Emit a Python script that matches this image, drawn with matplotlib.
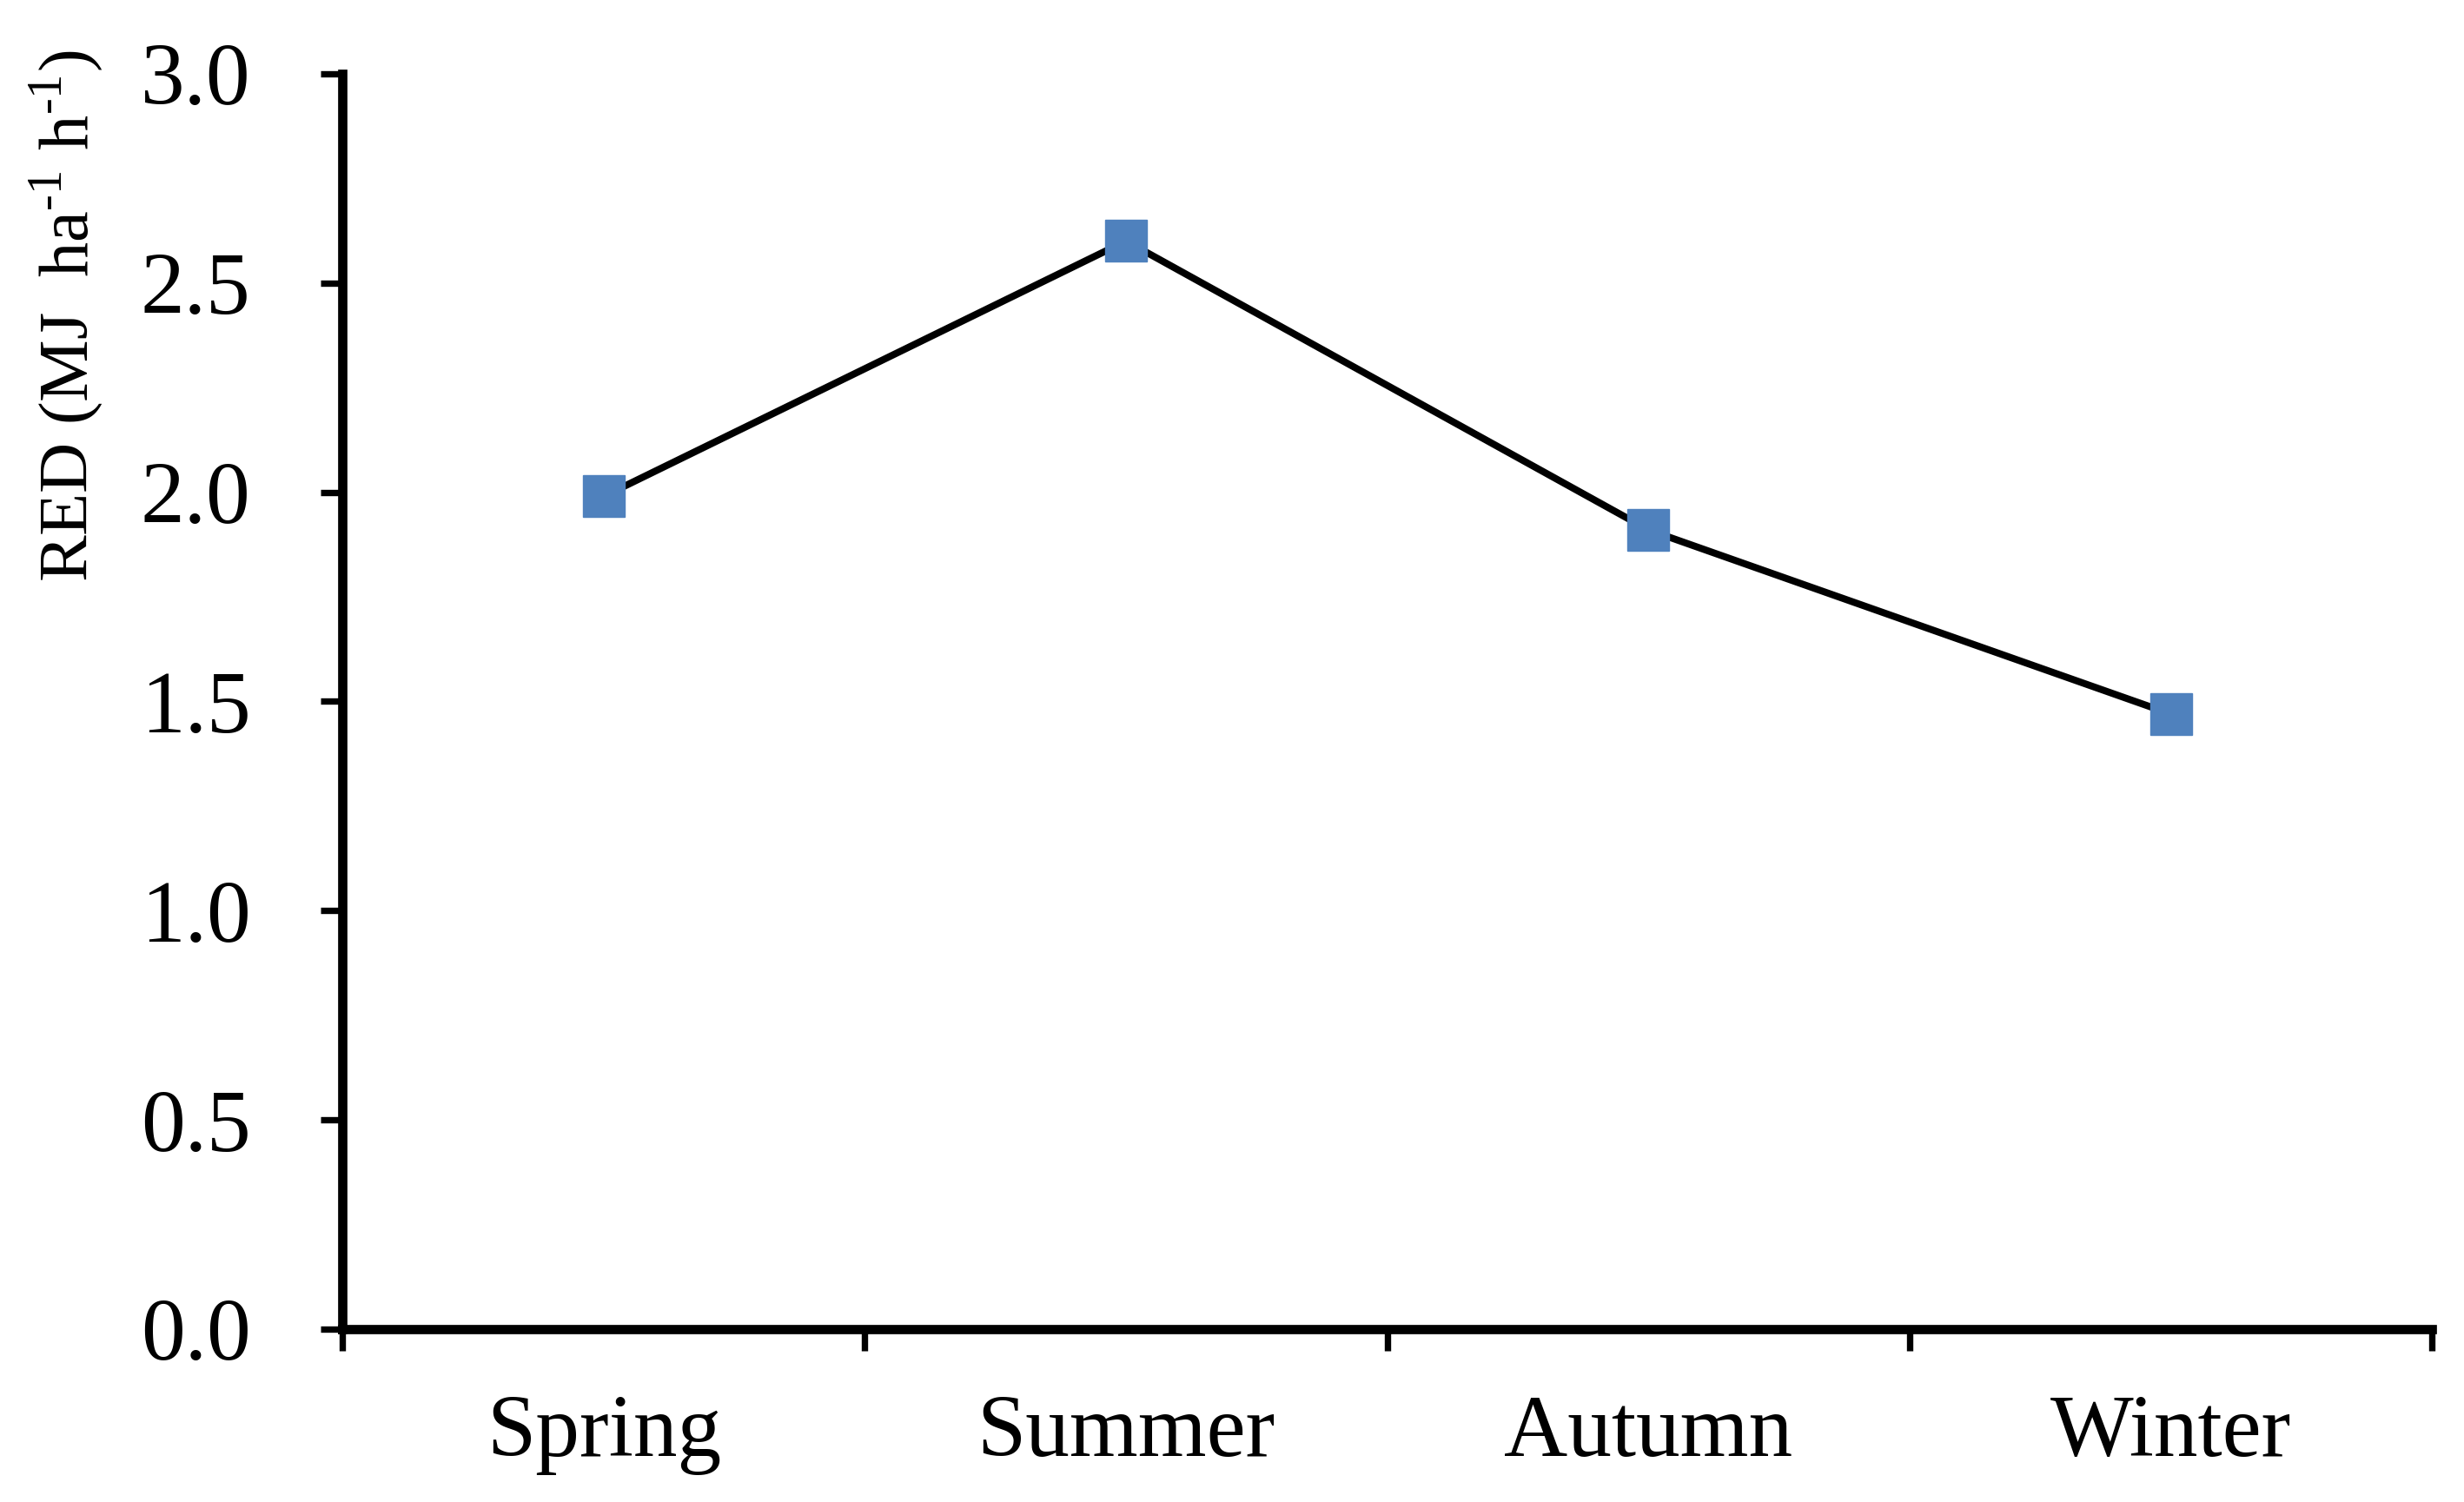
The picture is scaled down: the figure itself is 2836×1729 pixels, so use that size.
import matplotlib.pyplot as plt
import numpy as np

seasons = ['Spring', 'Summer', 'Autumn', 'Winter']
red_values = [1.99, 2.60, 1.91, 1.47]
y_ticks = [0.0, 0.5, 1.0, 1.5, 2.0, 2.5, 3.0]

plt.rcParams['font.family'] = ['Liberation Serif', 'DejaVu Serif']
plt.rcParams['mathtext.fontset'] = 'custom'
plt.rcParams['mathtext.rm'] = 'Liberation Serif'

fig = plt.figure(figsize=(28.36, 17.29), dpi=100)
ax = fig.add_axes([0.139, 0.115, 0.848, 0.836])

x = np.arange(len(seasons))
ax.plot(x, red_values, color='black', linewidth=5.8, marker='s',
        markersize=34, markerfacecolor='#4F81BD', markeredgecolor='#4F81BD', zorder=3)

ax.set_xlim(-0.5, len(seasons) - 0.5)
ax.set_ylim(0, 3.0)

# category labels centred, tick marks on the boundaries
ax.set_xticks(x)
ax.set_xticklabels(seasons)
ax.set_xticks(np.arange(-0.5, len(seasons)), minor=True)
ax.tick_params(axis='x', which='major', length=0, pad=54, labelsize=73)
ax.tick_params(axis='x', which='minor', length=18, width=5.3, direction='out')

ax.set_yticks(y_ticks)
ax.set_yticklabels(['%.1f' % v for v in y_ticks])
ax.tick_params(axis='y', length=18, width=5.3, direction='out', pad=58, labelsize=73)

for side in ['top', 'right']:
    ax.spines[side].set_visible(False)
for side in ['left', 'bottom']:
    ax.spines[side].set_linewidth(7.7)

ax.set_ylabel('RED (MJ  ha$^{\\text{-}1}$ h$^{\\text{-}1}$)', fontsize=58)
ax.yaxis.set_label_coords(-0.113, 0.807)

fig.savefig('out.png', dpi=100, facecolor='white')
